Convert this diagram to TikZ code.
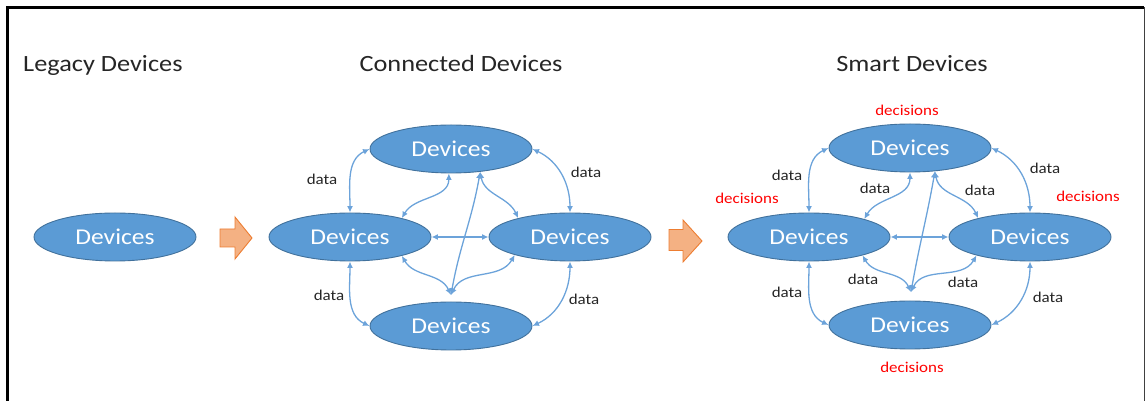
\documentclass[tikz,border=0pt]{standalone}
\usepackage{fontspec}
\setmainfont{Carlito}[FakeStretch=1.13]
\usetikzlibrary{shapes.geometric,arrows.meta}
\definecolor{devfill}{HTML}{5B9BD5}
\definecolor{devline}{HTML}{41719C}
\definecolor{conn}{HTML}{6CA3DA}
\definecolor{arrfill}{HTML}{F4B183}
\definecolor{arrline}{HTML}{ED7D31}
\definecolor{txt}{HTML}{262626}
\tikzset{
  dev/.style={ellipse, fill=devfill, draw=devline, line width=0.9pt, minimum width=162pt, minimum height=48pt, inner sep=0pt, text=white, font=\fontsize{22.6}{26}\selectfont},
  link/.style={draw=conn, line width=1.3pt, {Latex[length=6.5pt,width=6pt]}-{Latex[length=6.5pt,width=6pt]}},
  title/.style={text=txt, font=\fontsize{23.3}{27}\selectfont, inner sep=0pt},
  datalbl/.style={text=txt, font=\fontsize{15}{18}\selectfont, inner sep=0pt},
  declbl/.style={text=red, font=\fontsize{15}{18}\selectfont, inner sep=0pt},
  blockarrow/.style={fill=arrfill, draw=arrline, line width=0.9pt, line join=miter}
}
\begin{document}
\begin{tikzpicture}[x=1pt,y=1pt]
\useasboundingbox (0,0) rectangle (1146,401);
% frame
\draw[line width=3pt] (7.5,0) -- (7.5,393.5) -- (1144,393.5);
\draw[line width=1.2pt, black!75] (1144.4,393.5) -- (1144.4,0);
% titles
\node[title, anchor=base west] (tLeg) at (23,329.5) {Legacy Devices};
\node[title, anchor=base] (tCon) at (461,329.5) {Connected Devices};
\node[title, anchor=base] (tSma) at (912,329.5) {Smart Devices};
% legacy
\node[dev] (leg) at (115,164) {Devices};
% block arrows
\draw[blockarrow] (220,154) -- (235,154) -- (235,142) -- (252,163) -- (235,184) -- (235,172) -- (220,172) -- cycle;
\draw[blockarrow] (669,150.5) -- (683,150.5) -- (683,139) -- (702,160) -- (683,181) -- (683,171.5) -- (669,171.5) -- cycle;
% connected cluster
\node[dev] (cT) at (451,252) {Devices};
\node[dev] (cL) at (350,164) {Devices};
\node[dev] (cR) at (570,164) {Devices};
\node[dev] (cB) at (451,75) {Devices};
\coordinate (cBin) at (451,106);
\draw[link] (cT.west) to[out=205,in=90] (cL.north);
\draw[link] (cT.east) to[out=-25,in=90] (cR.north);
\draw[link] (cL.south) to[out=-90,in=155] (cB.west);
\draw[link] (cR.south) to[out=-90,in=25] (cB.east);
\draw[link] (cL.east) -- (cR.west);
\draw[link] (cT.265) to[out=-90,in=60] (cL.20);
\draw[link] (cT.322) to[out=-80,in=115] (cR.160);
\draw[link] (cL.-20) to[out=-60,in=115] (cBin);
\draw[link] (cR.198) to[out=-120,in=65] (cBin);
\draw[link] (cT.322) to[out=-100,in=80] (cBin);
\node[datalbl] (cd1) at (322,222) {data};
\node[datalbl] (cd2) at (586,229) {data};
\node[datalbl] (cd3) at (329,106) {data};
\node[datalbl] (cd4) at (584,102) {data};
% smart cluster
\node[dev] (sT) at (910,253) {Devices};
\node[dev] (sL) at (809,164) {Devices};
\node[dev] (sR) at (1030,164) {Devices};
\node[dev] (sB) at (910,76) {Devices};
\coordinate (sBin) at (911,109);
\draw[link] (sT.west) to[out=205,in=90] (sL.north);
\draw[link] (sT.east) to[out=-25,in=90] (sR.north);
\draw[link] (sL.south) to[out=-90,in=155] (sB.west);
\draw[link] (sR.south) to[out=-90,in=25] (sB.east);
\draw[link] (sL.east) -- (sR.west);
\draw[link] (sT.270) to[out=-90,in=60] (sL.18);
\draw[link] (sT.317) to[out=-80,in=115] (sR.160);
\draw[link] (sL.-19) to[out=-60,in=115] (sBin);
\draw[link] (sR.199) to[out=-120,in=65] (sBin);
\draw[link] (sT.317) to[out=-100,in=80] (sBin);
\node[datalbl] (sd1) at (787,226) {data};
\node[datalbl] (sd2) at (1045,233) {data};
\node[datalbl] (sd3) at (787,109) {data};
\node[datalbl] (sd4) at (1048,104) {data};
\node[datalbl] (sd5) at (875,213) {data};
\node[datalbl] (sd6) at (980,211) {data};
\node[datalbl] (sd7) at (863,122) {data};
\node[datalbl] (sd8) at (963,119) {data};
\node[declbl] (dc1) at (907,291) {decisions};
\node[declbl] (dc2) at (747,203) {decisions};
\node[declbl] (dc3) at (1088,205) {decisions};
\node[declbl] (dc4) at (912,34) {decisions};
\end{tikzpicture}
\end{document}
